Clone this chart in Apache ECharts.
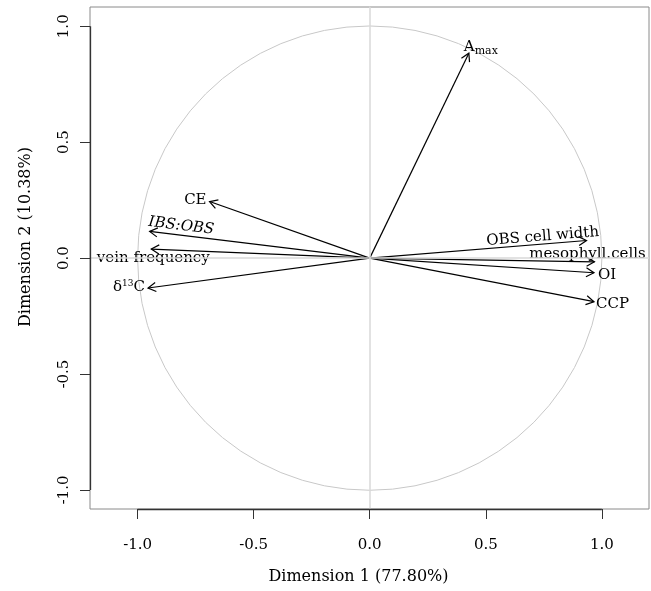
<!DOCTYPE html>
<html>
<head>
<meta charset="utf-8">
<script src="https://cdn.jsdelivr.net/npm/echarts@6/dist/echarts.min.js"></script>
<style>
  html, body { margin: 0; padding: 0; background: #fff; }
  #chart_container { width: 651px; height: 591px; }
</style>
</head>
<body>
<div id="chart_container"></div>
<script>
// variable loadings
const varNames = ['Amax', 'CE', 'IBS:OBS', 'vein frequency', 'd13C', 'OBS cell width', 'mesophyll.cells', 'OI', 'CCP'];
const dim1 = [0.427, -0.690, -0.948, -0.941, -0.955, 0.934, 0.968, 0.966, 0.966];
const dim2 = [0.884, 0.244, 0.115, 0.039, -0.129, 0.076, -0.016, -0.063, -0.188];
const tickValues = [-1, -0.5, 0, 0.5, 1];

const X_MIN = -1.205, X_MAX = 1.203;
const Y_MIN = -1.082, Y_MAX = 1.083;
const FONT = 'DejaVu Serif';

// how each label sits next to its arrow tip (pixels)
const labelPlace = {
  'Amax': { dx: -5, dy: 3, align: 'left', va: 'bottom' },
  'CE': { dx: -3, dy: -1, align: 'right', va: 'middle' },
  'IBS:OBS': { dx: -2, dy: -2, align: 'left', va: 'bottom', rot: true },
  'vein frequency': { dx: 2, dy: 2, align: 'center', va: 'top' },
  'd13C': { dx: -3, dy: -1, align: 'right', va: 'middle' },
  'OBS cell width': { dx: 13, dy: -1, align: 'right', va: 'bottom', rot: true },
  'mesophyll.cells': { dx: -7, dy: -8, align: 'center', va: 'middle' },
  'OI': { dx: 4, dy: 2, align: 'left', va: 'middle' },
  'CCP': { dx: 2, dy: 2, align: 'left', va: 'middle' }
};

function labelText(name) {
  if (name === 'Amax') return '{n|A}{sub|max}';
  if (name === 'd13C') return '{n|δ}{sup|13}{n|C}';
  if (name === 'IBS:OBS') return '{it|IBS:OBS}';
  return '{n|' + name + '}';
}

const richStyles = {
  n: { fontFamily: FONT, fontSize: 15, fill: '#000' },
  it: { fontFamily: FONT, fontSize: 15, fontStyle: 'italic', fill: '#000' },
  sub: { fontFamily: FONT, fontSize: 11, fill: '#000', padding: [8, 0, 0, 0] },
  sup: { fontFamily: FONT, fontSize: 9, fill: '#000', padding: [0, 0, 7, 0] }
};

function renderArrow(params, api) {
  const i = api.value(2);
  const name = varNames[i];
  const o = api.coord([0, 0]);
  const t = api.coord([api.value(0), api.value(1)]);
  const ang = Math.atan2(t[1] - o[1], t[0] - o[0]);
  const head = 9, spread = Math.PI / 6;
  const h1 = [t[0] - head * Math.cos(ang - spread), t[1] - head * Math.sin(ang - spread)];
  const h2 = [t[0] - head * Math.cos(ang + spread), t[1] - head * Math.sin(ang + spread)];
  const ls = { stroke: '#000', lineWidth: 1.2 };
  const p = labelPlace[name];
  let rotation = 0;
  if (p.rot) {
    // text follows the arrow direction
    let a = -ang;
    if (Math.abs(a) > Math.PI / 2) a = a > 0 ? a - Math.PI : a + Math.PI;
    rotation = a;
  }
  return {
    type: 'group',
    children: [
      { type: 'line', shape: { x1: o[0], y1: o[1], x2: t[0], y2: t[1] }, style: ls },
      { type: 'polyline', shape: { points: [h1, t, h2] }, style: Object.assign({ fill: 'none' }, ls) },
      {
        type: 'text',
        x: t[0] + p.dx,
        y: t[1] + p.dy,
        rotation: rotation,
        style: {
          text: labelText(name),
          rich: richStyles,
          align: p.align,
          verticalAlign: p.va,
          fontFamily: FONT,
          fontSize: 15
        }
      }
    ]
  };
}

function renderCircle(params, api) {
  const c = api.coord([0, 0]);
  const r = api.size([1, 1])[0];
  return {
    type: 'circle',
    shape: { cx: c[0], cy: c[1], r: r },
    style: { fill: 'none', stroke: '#c8c8c8', lineWidth: 1 }
  };
}

const chart = echarts.init(document.getElementById('chart_container'));

const option = {
  animation: false,
  grid: {
    left: 90, right: 2, top: 7, bottom: 82,
    show: true, borderColor: '#8a8a8a', borderWidth: 1
  },
  xAxis: {
    type: 'value',
    min: X_MIN, max: X_MAX,
    name: 'Dimension 1 (77.80%)',
    nameLocation: 'middle',
    nameGap: 60,
    nameTextStyle: { fontFamily: FONT, fontSize: 16, color: '#000', padding: [0, 22, 0, 0] },
    axisLine: { show: false, onZero: false },
    splitLine: { show: false },
    axisTick: { show: true, length: 10, customValues: tickValues, lineStyle: { color: '#333' } },
    axisLabel: {
      customValues: tickValues, margin: 29,
      fontFamily: FONT, fontSize: 15, color: '#000',
      formatter: v => v.toFixed(1)
    }
  },
  yAxis: {
    type: 'value',
    min: Y_MIN, max: Y_MAX,
    name: 'Dimension 2 (10.38%)',
    nameLocation: 'middle',
    nameGap: 56,
    nameTextStyle: { fontFamily: FONT, fontSize: 16, color: '#000', padding: [0, 0, 0, 42] },
    axisLine: { show: false, onZero: false },
    splitLine: { show: false },
    axisTick: { show: true, length: 10, customValues: tickValues, lineStyle: { color: '#333' } },
    axisLabel: {
      customValues: tickValues, margin: 18, rotate: 90,
      fontFamily: FONT, fontSize: 15, color: '#000',
      formatter: v => v.toFixed(1)
    }
  },
  series: [
    {
      type: 'custom',
      name: 'circle',
      silent: true,
      renderItem: renderCircle,
      data: [[0, 0]],
      markLine: {
        silent: true,
        symbol: 'none',
        label: { show: false },
        lineStyle: { color: '#d9d9d9', width: 1.5, type: 'solid' },
        data: [
          { xAxis: 0 },
          { yAxis: 0 },
          [{ coord: [tickValues[0], Y_MIN], lineStyle: { color: '#333', width: 1.3 } }, { coord: [tickValues[4], Y_MIN] }],
          [{ coord: [X_MIN, tickValues[0]], lineStyle: { color: '#333', width: 1.3 } }, { coord: [X_MIN, tickValues[4]] }]
        ]
      }
    },
    {
      type: 'custom',
      name: 'variables',
      silent: true,
      clip: false,
      renderItem: renderArrow,
      data: varNames.map((n, i) => [dim1[i], dim2[i], i])
    }
  ]
};

chart.setOption(option);
</script>
</body>
</html>
